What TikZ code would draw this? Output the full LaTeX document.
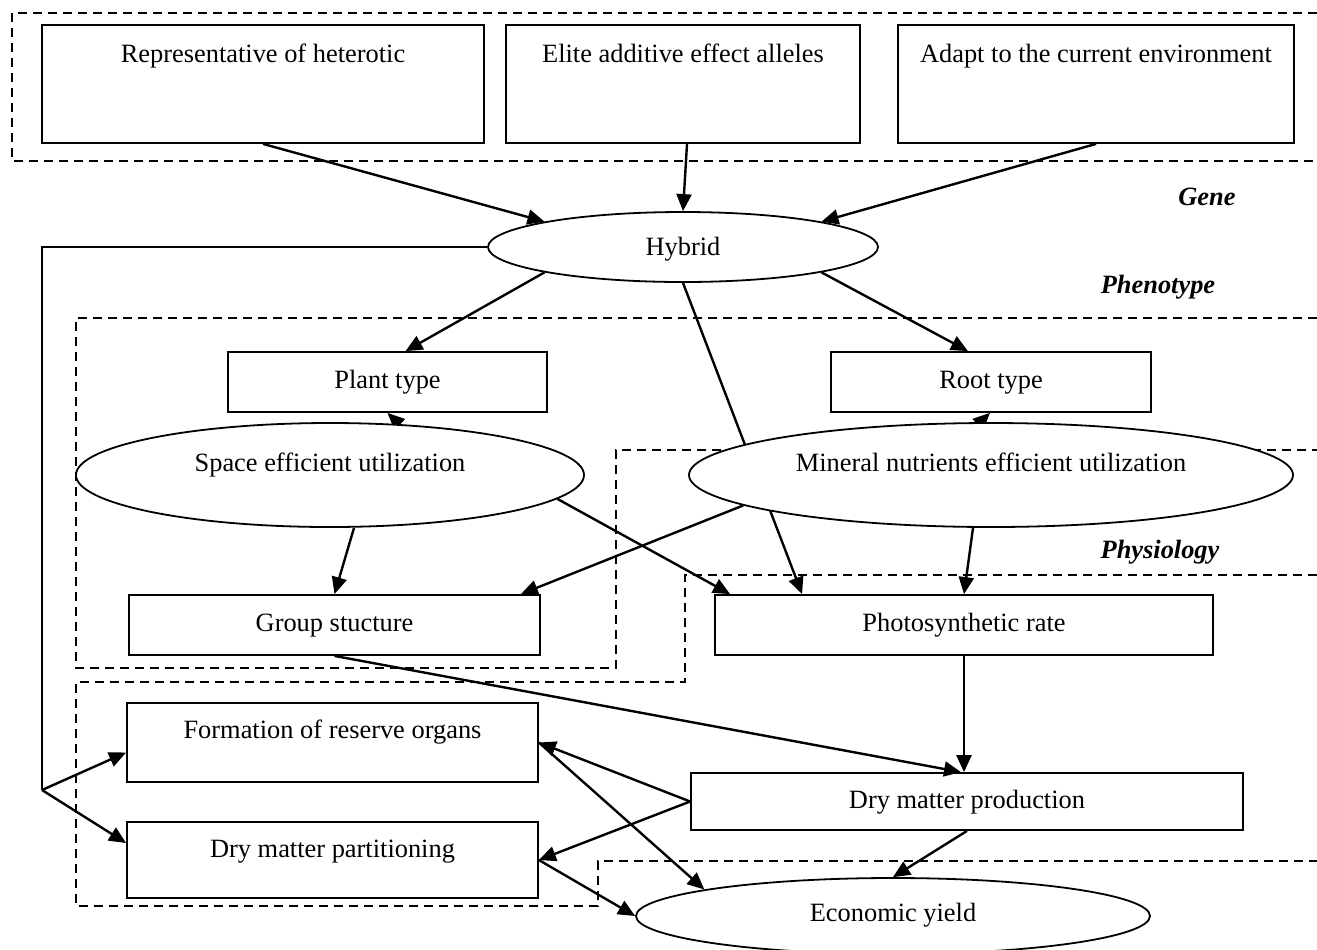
\documentclass[tikz,border=0pt]{standalone}
\usepackage{fontspec}
\setmainfont{Liberation Serif}
\usetikzlibrary{arrows.meta,shapes.geometric}
\pgfdeclarelayer{bg}
\pgfsetlayers{bg,main}

\begin{document}
\begin{tikzpicture}[x=0.5pt, y=-0.5pt,
  txt/.style={font=\fontsize{13.2}{15.8}\selectfont, text height=9pt, text depth=2.5pt, inner sep=0pt},
  box/.style={txt, draw, line width=0.9pt, rectangle, fill=white},
  oval/.style={txt, draw, line width=0.9pt, ellipse, fill=white},
  arr/.style={line width=1.2pt, -{Triangle[length=8.5pt,width=7.5pt]}},
  zone/.style={line width=0.7pt, dash pattern=on 4.5pt off 3pt},
  tag/.style={txt, font=\fontsize{13.2}{15.8}\selectfont\bfseries\itshape}]
  \useasboundingbox (0,0) rectangle (1317,949);

  \node[box, minimum width=221pt, minimum height=59pt, text depth=31pt] (rep) at (263,84) {Representative of heterotic};
  \node[box, minimum width=177pt, minimum height=59pt, text depth=31pt] (elite) at (683,84) {Elite additive effect alleles};
  \node[box, minimum width=198pt, minimum height=59pt, text depth=31pt] (adapt) at (1096,84) {Adapt to the current environment};
  \node[oval, minimum width=195pt, minimum height=35pt, text depth=1pt] (hybrid) at (683,247) {Hybrid};
  \node[box, minimum width=159.5pt, minimum height=30pt] (plant) at (387.5,382) {Plant type};
  \node[box, minimum width=160pt, minimum height=30pt] (root) at (991,382) {Root type};
  \node[oval, minimum width=254pt, minimum height=52pt, text depth=13pt] (space) at (330,475) {Space efficient utilization};
  \node[oval, minimum width=302pt, minimum height=52pt, text depth=13pt] (mineral) at (991,475) {Mineral nutrients efficient utilization};
  \node[box, minimum width=205.5pt, minimum height=30pt] (group) at (334.5,625) {Group stucture};
  \node[box, minimum width=249pt, minimum height=30pt] (photo) at (964,625) {Photosynthetic rate};
  \node[box, minimum width=205.5pt, minimum height=39.5pt, text depth=13.5pt] (formation) at (332.5,742.5) {Formation of reserve organs};
  \node[box, minimum width=205.5pt, minimum height=38pt, text depth=12pt] (partition) at (332.5,860) {Dry matter partitioning};
  \node[box, minimum width=276pt, minimum height=28.5pt] (production) at (967,801.5) {Dry matter production};
  \node[oval, minimum width=257pt, minimum height=38pt, text depth=4pt] (yield) at (893,916) {Economic yield};

  \node[tag] (gene) at (1207,199) {Gene};
  \node[tag] (pheno) at (1158,287) {Phenotype};
  \node[tag] (physio) at (1160,552) {Physiology};

  \begin{pgfonlayer}{bg}
    \draw[zone] (1317,13) -- (12,13) -- (12,161) -- (1317,161);
    \draw[zone] (1317,318) -- (76,318) -- (76,668) -- (616,668) -- (616,450) -- (1317,450);
    \draw[zone] (1317,575) -- (685,575) -- (685,682) -- (76,682) -- (76,906) -- (598,906) -- (598,861) -- (1317,861);
    \draw[arr] (hybrid.south) -- ([xshift=44pt]photo.north west);
    \draw[arr] ([xshift=56pt,yshift=5pt]space.center) -- (plant.south);
    \draw[arr] ([xshift=-28pt,yshift=5pt]mineral.center) -- ([xshift=-0.5pt]root.south);
  \end{pgfonlayer}

  \draw[arr] (rep.south) -- (hybrid.north west);
  \draw[arr] ([xshift=2pt]elite.south) -- (hybrid.north);
  \draw[arr] (adapt.south) -- (hybrid.north east);
  \draw[arr] (hybrid.south west) -- ([xshift=9pt]plant.north);
  \draw[arr] (hybrid.south east) -- ([xshift=-11.5pt]root.north);
  \draw[arr] ([xshift=12pt]space.south) -- (group.north);
  \draw[arr] (space.354) -- ([xshift=8pt]photo.north west);
  \draw[arr] (mineral.187) -- ([xshift=-10pt]group.north east);
  \draw[arr] ([xshift=-9pt]mineral.south) -- (photo.north);
  \draw[arr] (photo.south) -- (photo.south |- production.north);
  \draw[arr] (group.south) -- ([xshift=-3pt]production.north);
  \draw[arr] (production.west) -- (formation.east);
  \draw[arr] (production.west) -- (partition.east);
  \draw[arr] (formation.east) -- (yield.172);
  \draw[arr] (partition.east) -- (yield.west);
  \draw[arr] (production.south) -- (yield.north);

  \coordinate (fork) at (42,790);
  \draw[line width=0.9pt] (hybrid.west) -| (fork);
  \draw[arr] (fork) -- ([yshift=-5pt]formation.west);
  \draw[arr] (fork) -- ([yshift=8.5pt]partition.west);
\end{tikzpicture}
\end{document}
